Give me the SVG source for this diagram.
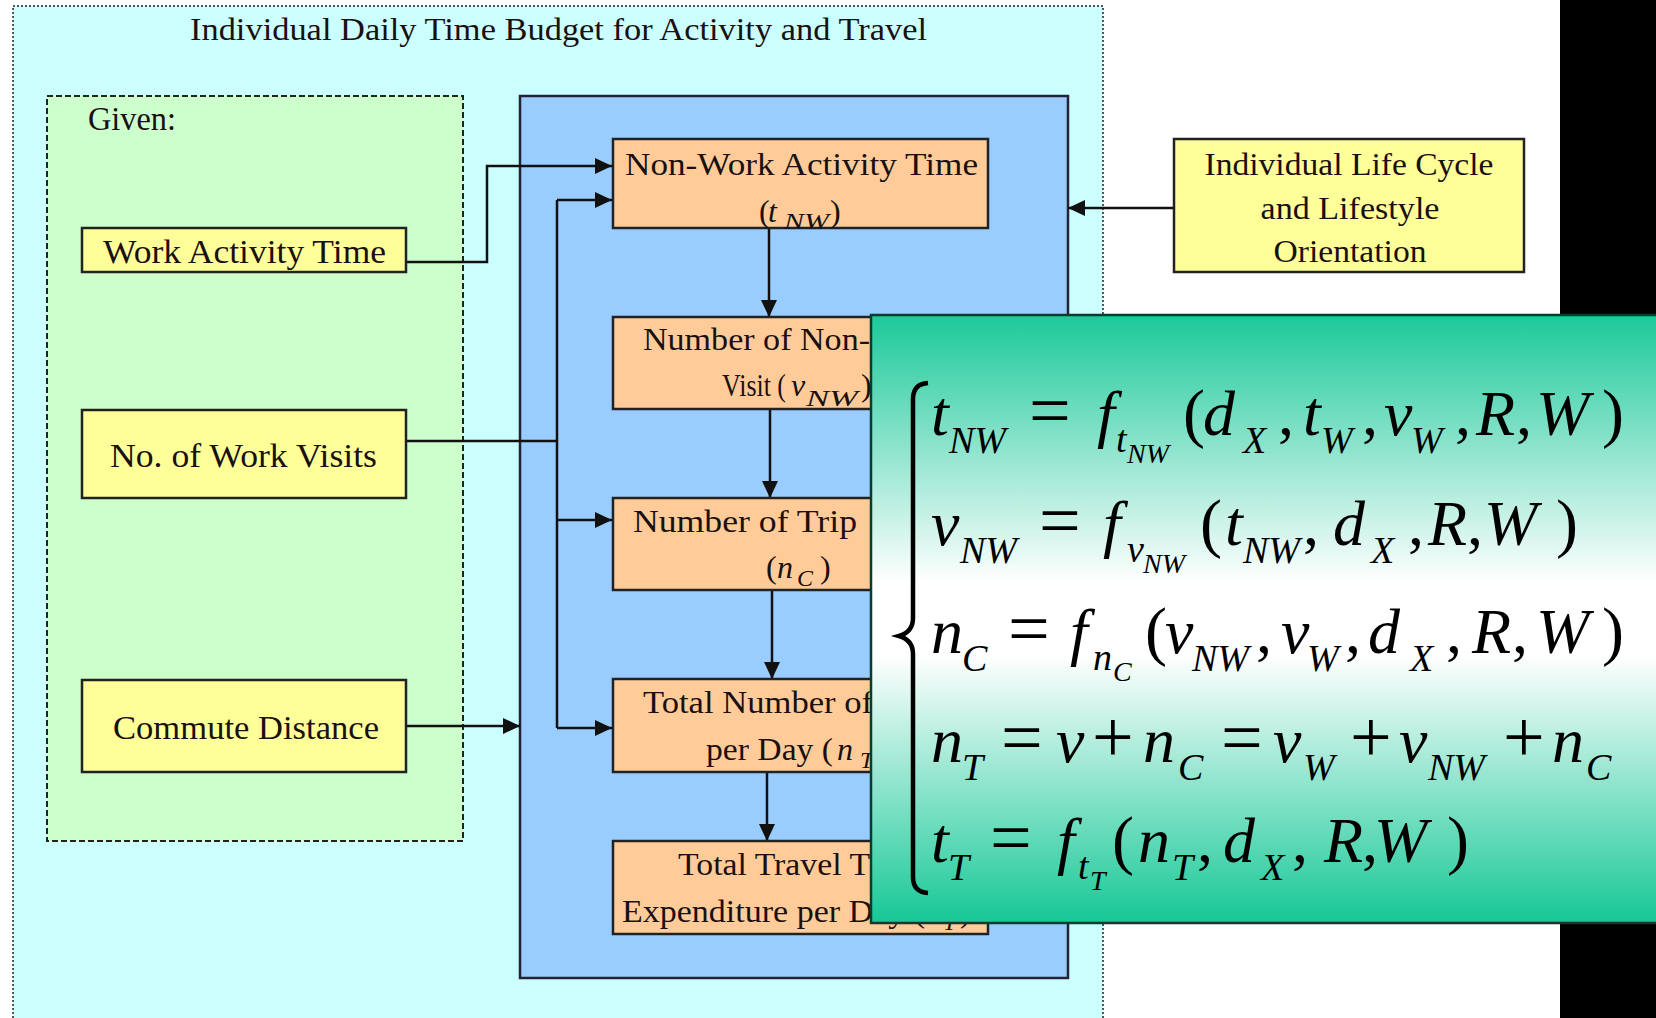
<svg xmlns="http://www.w3.org/2000/svg" width="1656" height="1018" viewBox="0 0 1656 1018">
<defs>
<marker id="ah" markerWidth="17" markerHeight="16" refX="17" refY="8" orient="auto" markerUnits="userSpaceOnUse"><path d="M0,0 L17,8 L0,16 z" fill="#111"/></marker>
<linearGradient id="gg" x1="0" y1="0" x2="0" y2="1">
<stop offset="0" stop-color="#1CC99A"/>
<stop offset="0.44" stop-color="#FFFFFF"/>
<stop offset="0.56" stop-color="#FFFFFF"/>
<stop offset="1" stop-color="#16C896"/>
</linearGradient>
</defs>
<style>
.bx{font-family:"Liberation Serif","Times New Roman",serif;font-size:32px;fill:#1a1010}
.by{font-size:34px}
.bi{font-family:"Liberation Serif","Times New Roman",serif;font-style:italic;fill:#1a1010}
.yl{fill:#FFFF99;stroke:#222;stroke-width:2.5}
.or{fill:#FFCC99;stroke:#222;stroke-width:2.5}
.cn{fill:none;stroke:#111;stroke-width:2.5}
.eq{font-family:"Liberation Serif","Times New Roman",serif;font-style:italic;fill:#000;font-size:64px}
.eq .s{font-size:38px}
.eq .ss{font-size:28px}
.eq .r{font-style:normal}
.eq .o{font-style:normal;font-size:74px}
.eq .p{font-style:normal;font-size:66px}
</style>
<rect x="0" y="0" width="1656" height="1018" fill="#FFFFFF"/>
<rect x="1560" y="0" width="96" height="1018" fill="#000"/>
<g id="outer">
<rect x="13" y="6" width="1090" height="1030" fill="#CCFFFF" stroke="#555" stroke-width="2" stroke-dasharray="2,2"/>
<text class="bx" x="190" y="40" font-size="33" textLength="737" lengthAdjust="spacingAndGlyphs">Individual Daily Time Budget for Activity and Travel</text>
</g>
<g id="given">
<rect x="47" y="96" width="416" height="745" fill="#CCFFCC" stroke="#222" stroke-width="2" stroke-dasharray="6,3"/>
<text class="bx by" x="88" y="130" textLength="88" lengthAdjust="spacingAndGlyphs">Given:</text>
</g>
<g id="model">
<rect x="520" y="96" width="548" height="882" fill="#99CCFF" stroke="#222233" stroke-width="2.5"/>
</g>
<g id="connectors">
<polyline class="cn" points="406,262 487,262 487,166 612,166" marker-end="url(#ah)"/>
<polyline class="cn" points="406,441 557,441"/>
<polyline class="cn" points="557,200 557,728"/>
<polyline class="cn" points="557,200 612,200" marker-end="url(#ah)"/>
<polyline class="cn" points="557,520 612,520" marker-end="url(#ah)"/>
<polyline class="cn" points="557,728 612,728" marker-end="url(#ah)"/>
<polyline class="cn" points="406,726 520,726" marker-end="url(#ah)"/>
<polyline class="cn" points="1174,208 1068,208" marker-end="url(#ah)"/>
<polyline class="cn" points="769,228 769,317" marker-end="url(#ah)"/>
<polyline class="cn" points="770,409 770,498" marker-end="url(#ah)"/>
<polyline class="cn" points="772,590 772,679" marker-end="url(#ah)"/>
<polyline class="cn" points="767,772 767,841" marker-end="url(#ah)"/>
</g>
<g id="work-time">
<rect class="yl" x="82" y="228" width="324" height="44"/>
<text class="bx by" x="103" y="263" textLength="283" lengthAdjust="spacingAndGlyphs">Work Activity Time</text>
</g>
<g id="work-visits">
<rect class="yl" x="82" y="410" width="324" height="88"/>
<text class="bx by" x="110" y="467" textLength="267" lengthAdjust="spacingAndGlyphs">No. of Work Visits</text>
</g>
<g id="commute">
<rect class="yl" x="82" y="680" width="324" height="92"/>
<text class="bx by" x="113" y="739" textLength="266" lengthAdjust="spacingAndGlyphs">Commute Distance</text>
</g>
<g id="nonwork-time">
<rect class="or" x="613" y="139" width="375" height="89"/>
<text class="bx" x="625" y="175" textLength="353" lengthAdjust="spacingAndGlyphs">Non-Work Activity Time</text>
<text class="bx" y="222"><tspan x="759">(</tspan><tspan class="bi" x="768">t</tspan><tspan class="bi" x="784" y="229" font-size="24" textLength="45" lengthAdjust="spacingAndGlyphs">NW</tspan><tspan x="830" y="222">)</tspan></text>
</g>
<g id="nonwork-visits">
<rect class="or" x="613" y="317" width="375" height="92"/>
<text class="bx" x="643" y="350" textLength="227" lengthAdjust="spacingAndGlyphs">Number of Non-</text>
<text class="bx" y="396"><tspan x="722" textLength="64" lengthAdjust="spacingAndGlyphs">Visit (</tspan><tspan class="bi" x="791">v</tspan><tspan class="bi" x="806" y="406" font-size="24" textLength="52" lengthAdjust="spacingAndGlyphs">NW</tspan><tspan x="861" y="396">)</tspan></text>
</g>
<g id="trip-chains">
<rect class="or" x="613" y="498" width="375" height="92"/>
<text class="bx" x="633" y="532" textLength="224" lengthAdjust="spacingAndGlyphs">Number of Trip</text>
<text class="bx" y="578"><tspan x="766">(</tspan><tspan class="bi" x="777">n</tspan><tspan class="bi" x="797" y="586" font-size="24">C</tspan><tspan x="820" y="578">)</tspan></text>
</g>
<g id="total-trips">
<rect class="or" x="613" y="679" width="375" height="93"/>
<text class="bx" x="643" y="713" textLength="230" lengthAdjust="spacingAndGlyphs">Total Number of</text>
<text class="bx" y="760"><tspan x="706" textLength="127" lengthAdjust="spacingAndGlyphs">per Day (</tspan><tspan class="bi" x="837">n</tspan><tspan class="bi" x="860" y="768" font-size="24">T</tspan><tspan x="878" y="760">)</tspan></text>
</g>
<g id="travel-time">
<rect class="or" x="613" y="841" width="375" height="93"/>
<text class="bx" x="678" y="875" textLength="192" lengthAdjust="spacingAndGlyphs">Total Travel T</text>
<text class="bx" y="922"><tspan x="622" textLength="303" lengthAdjust="spacingAndGlyphs">Expenditure per Day (</tspan><tspan class="bi" x="929">t</tspan><tspan class="bi" x="943" y="930" font-size="24">T</tspan><tspan x="960" y="922">)</tspan></text>
</g>
<g id="lifecycle">
<rect class="yl" x="1174" y="139" width="350" height="133"/>
<text class="bx" x="1349" y="175" text-anchor="middle" textLength="289" lengthAdjust="spacingAndGlyphs">Individual Life Cycle</text>
<text class="bx" x="1350" y="219" text-anchor="middle" textLength="179" lengthAdjust="spacingAndGlyphs">and Lifestyle</text>
<text class="bx" x="1350" y="262" text-anchor="middle" textLength="153" lengthAdjust="spacingAndGlyphs">Orientation</text>
</g>
<g id="equations">
<rect x="871" y="315" width="800" height="608" fill="url(#gg)" stroke="#0b3d2e" stroke-width="2.5"/>
<path d="M928,383 Q913,384 913,399 L913,618 Q913,632 899,636 Q913,640 913,654 L913,877 Q913,892 928,893" fill="none" stroke="#000" stroke-width="4.5"/>
<text class="eq" y="435"><tspan x="931">t</tspan><tspan class="s" x="949" y="453">NW</tspan><tspan class="o" x="1029" y="435">=</tspan><tspan x="1097">f</tspan><tspan class="s" x="1116" y="452">t</tspan><tspan class="ss" x="1127" y="463">NW</tspan><tspan class="p" x="1183" y="435">(</tspan><tspan x="1203">d</tspan><tspan class="s" x="1243" y="453">X</tspan><tspan class="r" x="1278" y="435">,</tspan><tspan x="1303">t</tspan><tspan class="s" x="1321" y="453">W</tspan><tspan class="r" x="1362" y="435">,</tspan><tspan x="1384">v</tspan><tspan class="s" x="1411" y="453">W</tspan><tspan class="r" x="1455" y="435">,</tspan><tspan x="1476">R</tspan><tspan class="r" x="1516">,</tspan><tspan x="1536">W</tspan><tspan class="p" x="1602">)</tspan></text>
<text class="eq" y="545"><tspan x="931">v</tspan><tspan class="s" x="960" y="563">NW</tspan><tspan class="o" x="1039" y="545">=</tspan><tspan x="1103">f</tspan><tspan class="s" x="1127" y="562">v</tspan><tspan class="ss" x="1143" y="573">NW</tspan><tspan class="p" x="1200" y="545">(</tspan><tspan x="1225">t</tspan><tspan class="s" x="1243" y="563">NW</tspan><tspan class="r" x="1303" y="545">,</tspan><tspan x="1333">d</tspan><tspan class="s" x="1371" y="563">X</tspan><tspan class="r" x="1408" y="545">,</tspan><tspan x="1428">R</tspan><tspan class="r" x="1467">,</tspan><tspan x="1484">W</tspan><tspan class="p" x="1556">)</tspan></text>
<text class="eq" y="653"><tspan x="931">n</tspan><tspan class="s" x="962" y="671">C</tspan><tspan class="o" x="1008" y="653">=</tspan><tspan x="1070">f</tspan><tspan class="s" x="1093" y="670">n</tspan><tspan class="ss" x="1113" y="681">C</tspan><tspan class="p" x="1145" y="653">(</tspan><tspan x="1165">v</tspan><tspan class="s" x="1192" y="671">NW</tspan><tspan class="r" x="1256" y="653">,</tspan><tspan x="1281">v</tspan><tspan class="s" x="1307" y="671">W</tspan><tspan class="r" x="1345" y="653">,</tspan><tspan x="1368">d</tspan><tspan class="s" x="1410" y="671">X</tspan><tspan class="r" x="1446" y="653">,</tspan><tspan x="1472">R</tspan><tspan class="r" x="1512">,</tspan><tspan x="1536">W</tspan><tspan class="p" x="1602">)</tspan></text>
<text class="eq" y="762"><tspan x="931">n</tspan><tspan class="s" x="962" y="780">T</tspan><tspan class="o" x="1001" y="762">=</tspan><tspan x="1056">v</tspan><tspan class="o" x="1092">+</tspan><tspan x="1143">n</tspan><tspan class="s" x="1178" y="780">C</tspan><tspan class="o" x="1221" y="762">=</tspan><tspan x="1273">v</tspan><tspan class="s" x="1303" y="780">W</tspan><tspan class="o" x="1350" y="762">+</tspan><tspan x="1399">v</tspan><tspan class="s" x="1428" y="780">NW</tspan><tspan class="o" x="1503" y="762">+</tspan><tspan x="1552">n</tspan><tspan class="s" x="1586" y="780">C</tspan></text>
<text class="eq" y="862"><tspan x="931">t</tspan><tspan class="s" x="948" y="880">T</tspan><tspan class="o" x="990" y="862">=</tspan><tspan x="1057">f</tspan><tspan class="s" x="1078" y="879">t</tspan><tspan class="ss" x="1090" y="890">T</tspan><tspan class="p" x="1112" y="862">(</tspan><tspan x="1138">n</tspan><tspan class="s" x="1172" y="880">T</tspan><tspan class="r" x="1197" y="862">,</tspan><tspan x="1223">d</tspan><tspan class="s" x="1261" y="880">X</tspan><tspan class="r" x="1292" y="862">,</tspan><tspan x="1324">R</tspan><tspan class="r" x="1362">,</tspan><tspan x="1374">W</tspan><tspan class="p" x="1447">)</tspan></text>
</g>
</svg>
